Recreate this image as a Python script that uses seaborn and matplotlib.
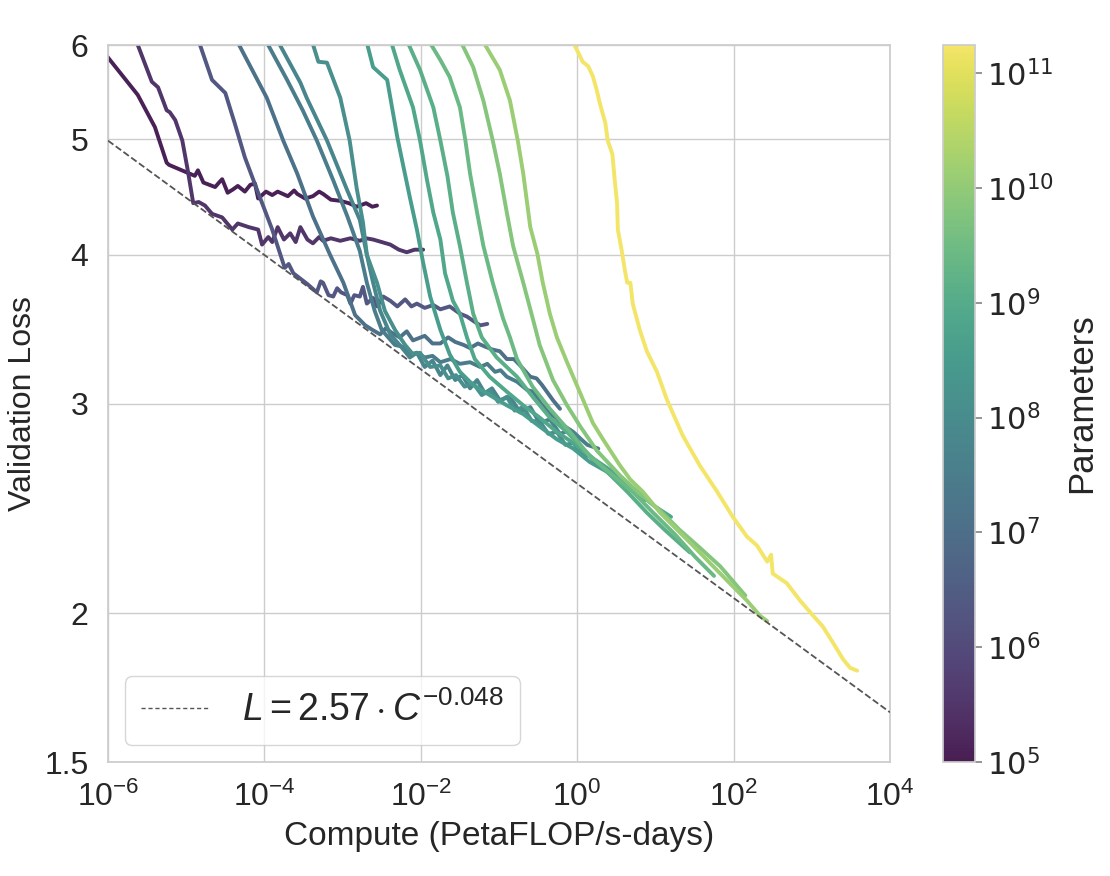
import numpy as np
import pandas as pd
import matplotlib
matplotlib.use("Agg")
import matplotlib.pyplot as plt
import seaborn as sns
from matplotlib.colors import LogNorm, ListedColormap
from matplotlib.cm import ScalarMappable
from matplotlib.ticker import FixedLocator, FixedFormatter, NullLocator

# ---------------- data ----------------
params = [1.2e5, 3.2e5, 2.3e6, 1.2e7, 3.0e7, 5.7e7, 1.25e8, 3.5e8, 7.6e8,
          1.3e9, 2.7e9, 6.7e9, 1.3e10, 1.75e11]

c01_logc = [-6.02, -5.62, -5.40, -5.25, -5.22, -4.99, -4.89, -4.85, -4.78, -4.63, -4.58, -4.54,
            -4.47, -4.40, -4.34, -4.25, -4.18, -4.12, -4.08, -3.98, -3.90, -3.83, -3.70, -3.62,
            -3.58, -3.48, -3.38, -3.30, -3.25, -3.15, -3.03, -2.92, -2.82, -2.70, -2.62, -2.56]
c01_loss = [5.88, 5.45, 5.12, 4.78, 4.76, 4.69, 4.66, 4.71, 4.60, 4.56, 4.60, 4.63,
            4.51, 4.54, 4.57, 4.52, 4.58, 4.59, 4.46, 4.52, 4.49, 4.52, 4.48, 4.53,
            4.50, 4.46, 4.48, 4.52, 4.50, 4.45, 4.44, 4.42, 4.39, 4.42, 4.39, 4.40]

c02_logc = [-5.66, -5.44, -5.36, -5.25, -5.21, -5.14, -5.05, -4.98, -4.91, -4.84, -4.76, -4.67,
            -4.54, -4.41, -4.34, -4.20, -4.08, -4.03, -3.95, -3.90, -3.83, -3.75, -3.67, -3.60,
            -3.54, -3.45, -3.38, -3.30, -3.25, -3.15, -3.03, -2.90, -2.78, -2.70, -2.61, -2.50,
            -2.39, -2.28, -2.18, -2.08, -1.97]
c02_loss = [6.10, 5.59, 5.53, 5.29, 5.27, 5.19, 4.99, 4.71, 4.42, 4.43, 4.40, 4.33,
            4.30, 4.20, 4.25, 4.22, 4.20, 4.08, 4.14, 4.10, 4.22, 4.12, 4.17, 4.10,
            4.22, 4.12, 4.09, 4.14, 4.11, 4.13, 4.11, 4.13, 4.11, 4.13, 4.12, 4.10,
            4.08, 4.04, 4.02, 4.04, 4.04]

c03_logc = [-4.86, -4.67, -4.50, -4.38, -4.25, -4.08, -3.90, -3.74, -3.69, -3.63, -3.45, -3.33,
            -3.28, -3.25, -3.18, -3.12, -3.07, -3.02, -2.94, -2.90, -2.85, -2.78, -2.74, -2.69,
            -2.61, -2.56, -2.48, -2.39, -2.30, -2.20, -2.12, -2.05, -1.95, -1.84, -1.75, -1.63,
            -1.50, -1.41, -1.30, -1.24, -1.15]
c03_loss = [6.10, 5.61, 5.47, 5.16, 4.83, 4.51, 4.20, 3.90, 3.93, 3.86, 3.78, 3.72,
            3.80, 3.79, 3.70, 3.69, 3.75, 3.72, 3.70, 3.64, 3.70, 3.69, 3.76, 3.64,
            3.68, 3.62, 3.69, 3.66, 3.62, 3.67, 3.62, 3.64, 3.61, 3.63, 3.60, 3.62,
            3.57, 3.55, 3.51, 3.49, 3.50]

c04_logc = [-4.38, -3.97, -3.76, -3.58, -3.38, -3.16, -2.99, -2.84, -2.71, -2.62, -2.52, -2.45,
            -2.37, -2.27, -2.18, -2.10, -1.95, -1.85, -1.75, -1.65, -1.56, -1.45, -1.37, -1.27,
            -1.18, -1.08, -0.99, -0.90, -0.81, -0.73, -0.60, -0.52, -0.45, -0.31, -0.22]
c04_loss = [6.10, 5.42, 4.99, 4.68, 4.31, 4.00, 3.79, 3.56, 3.49, 3.46, 3.43, 3.47,
            3.44, 3.41, 3.45, 3.39, 3.42, 3.37, 3.37, 3.41, 3.38, 3.36, 3.34, 3.37,
            3.35, 3.33, 3.32, 3.27, 3.27, 3.23, 3.16, 3.15, 3.11, 3.02, 2.97]

c05_logc = [-4.01, -3.71, -3.51, -3.33, -3.12, -2.94, -2.78, -2.69, -2.59, -2.50, -2.40, -2.33,
            -2.24, -2.14, -2.05, -1.95, -1.85, -1.75, -1.62, -1.50, -1.37, -1.24, -1.15, -1.05,
            -0.98, -0.90, -0.77, -0.64, -0.56, -0.48, -0.35, -0.27, -0.19, -0.05, 0.05, 0.13, 0.27]
c05_loss = [6.10, 5.61, 5.29, 4.99, 4.62, 4.31, 4.03, 3.79, 3.59, 3.46, 3.40, 3.36,
            3.35, 3.30, 3.31, 3.28, 3.29, 3.25, 3.27, 3.24, 3.25, 3.22, 3.24, 3.19,
            3.20, 3.16, 3.13, 3.08, 3.07, 3.01, 2.94, 2.92, 2.88, 2.84, 2.80, 2.77, 2.75]

c06_logc = [-3.86, -3.54, -3.46, -3.20, -2.94, -2.78, -2.69, -2.61, -2.52, -2.39, -2.27, -2.14,
            -2.05, -1.95, -1.85, -1.75, -1.66, -1.56, -1.47, -1.37, -1.28, -1.18, -1.09, -0.99,
            -0.86, -0.73, -0.60, -0.48, -0.35, -0.22, -0.09, 0.04]
c06_loss = [6.10, 5.58, 5.42, 4.99, 4.53, 4.28, 4.00, 3.79, 3.59, 3.43, 3.36, 3.28,
            3.31, 3.22, 3.26, 3.17, 3.23, 3.14, 3.17, 3.09, 3.14, 3.06, 3.09, 3.02,
            3.04, 2.95, 2.98, 2.89, 2.91, 2.83, 2.85, 2.80]

c07_logc = [-3.41, -3.31, -3.20, -3.03, -2.91, -2.82, -2.74, -2.69, -2.56, -2.46, -2.33, -2.20,
            -2.10, -2.01, -1.88, -1.75, -1.65, -1.55, -1.44, -1.33, -1.22, -1.12, -1.01, -0.90,
            -0.80, -0.69, -0.58, -0.48, -0.37, -0.26, -0.15, -0.05, 0.05, 0.16, 0.28, 0.41]
c07_loss = [6.10, 5.81, 5.80, 5.42, 4.99, 4.55, 4.26, 4.00, 3.79, 3.59, 3.46, 3.36,
            3.30, 3.31, 3.22, 3.23, 3.15, 3.17, 3.10, 3.12, 3.05, 3.08, 3.01, 3.04,
            2.96, 2.98, 2.90, 2.90, 2.83, 2.84, 2.77, 2.78, 2.72, 2.71, 2.66, 2.64]

c08_logc = [-2.71, -2.61, -2.43, -2.30, -2.23, -2.14, -2.05, -1.97, -1.88, -1.75, -1.63, -1.50,
            -1.33, -1.12, -0.90, -0.69, -0.48, -0.26, -0.05, 0.16, 0.38, 0.61, 0.87]
c08_loss = [6.10, 5.75, 5.61, 5.02, 4.77, 4.47, 4.20, 3.94, 3.69, 3.46, 3.30, 3.19,
            3.11, 3.05, 2.99, 2.94, 2.87, 2.80, 2.75, 2.68, 2.63, 2.56, 2.49]

c09_logc = [-2.40, -2.27, -2.10, -2.01, -1.92, -1.84, -1.75, -1.69, -1.63, -1.59, -1.50, -1.41,
            -1.31, -1.12, -0.90, -0.69, -0.48, -0.26, -0.05, 0.16, 0.38, 0.61, 0.80, 0.99, 1.20]
c09_loss = [6.10, 5.72, 5.32, 4.99, 4.62, 4.34, 4.12, 3.86, 3.74, 3.66, 3.57, 3.41,
            3.27, 3.16, 3.07, 2.99, 2.92, 2.84, 2.78, 2.71, 2.65, 2.58, 2.52, 2.46, 2.41]

c10_logc = [-2.20, -2.01, -1.84, -1.75, -1.66, -1.59, -1.50, -1.41, -1.33, -1.22, -1.03, -0.77,
            -0.57, -0.35, -0.13, 0.07, 0.38, 0.64, 0.89, 1.12, 1.44]
c10_loss = [6.10, 5.72, 5.32, 4.99, 4.66, 4.34, 4.07, 3.79, 3.57, 3.41, 3.28, 3.16,
            3.04, 2.92, 2.84, 2.75, 2.63, 2.53, 2.43, 2.35, 2.25]

c11_logc = [-1.93, -1.75, -1.63, -1.50, -1.43, -1.37, -1.28, -1.20, -1.08, -0.95, -0.86, -0.77,
            -0.57, -0.35, -0.09, 0.16, 0.46, 0.71, 0.97, 1.25, 1.51, 1.75]
c11_loss = [6.10, 5.83, 5.64, 5.32, 4.99, 4.68, 4.34, 4.07, 3.79, 3.54, 3.41, 3.27,
            3.10, 2.97, 2.84, 2.71, 2.61, 2.53, 2.43, 2.33, 2.23, 2.15]

c12_logc = [-1.52, -1.33, -1.20, -1.08, -0.99, -0.90, -0.82, -0.69, -0.57, -0.48, -0.31, -0.13,
            0.04, 0.25, 0.55, 0.80, 1.06, 1.31, 1.57, 1.83, 2.15]
c12_loss = [6.10, 5.75, 5.39, 4.99, 4.68, 4.34, 4.07, 3.79, 3.54, 3.36, 3.14, 2.99,
            2.87, 2.74, 2.61, 2.52, 2.44, 2.35, 2.27, 2.19, 2.07]

c13_logc = [-1.24, -0.99, -0.86, -0.76, -0.69, -0.60, -0.51, -0.44, -0.35, -0.26, -0.13, 0.04,
            0.20, 0.33, 0.55, 0.68, 0.84, 1.06, 1.28, 1.48, 1.74, 1.95, 2.17, 2.34, 2.43]
c13_loss = [6.10, 5.72, 5.39, 4.99, 4.68, 4.22, 4.01, 3.79, 3.57, 3.41, 3.25, 3.06,
            2.89, 2.80, 2.66, 2.59, 2.53, 2.43, 2.35, 2.28, 2.19, 2.12, 2.05, 1.99, 1.97]

c14_logc = [-0.09, -0.03, 0.01, 0.07, 0.14, 0.20, 0.25, 0.29, 0.36, 0.39, 0.45, 0.48,
            0.51, 0.52, 0.57, 0.61, 0.64, 0.68, 0.71, 0.80, 0.89, 1.02, 1.15, 1.35,
            1.57, 1.79, 1.99, 2.17, 2.30, 2.43, 2.48, 2.50, 2.68, 2.85, 3.02, 3.14,
            3.27, 3.40, 3.49, 3.58]
c14_loss = [6.08, 5.99, 5.92, 5.81, 5.76, 5.65, 5.50, 5.36, 5.16, 4.99, 4.86, 4.62,
            4.42, 4.20, 4.03, 3.88, 3.79, 3.79, 3.64, 3.46, 3.32, 3.19, 3.02, 2.82,
            2.66, 2.53, 2.41, 2.32, 2.28, 2.21, 2.24, 2.16, 2.12, 2.05, 1.99, 1.95,
            1.89, 1.83, 1.80, 1.79]

fit_coef = 2.57
fit_exp = -0.048
fit_range = [1e-6, 1e4]

x_ticks = [1e-6, 1e-4, 1e-2, 1e0, 1e2, 1e4]
y_ticks = [1.5, 2, 3, 4, 5, 6]
y_tick_labels = ["1.5", "2", "3", "4", "5", "6"]

curves_logc = [c01_logc, c02_logc, c03_logc, c04_logc, c05_logc, c06_logc, c07_logc,
               c08_logc, c09_logc, c10_logc, c11_logc, c12_logc, c13_logc, c14_logc]
curves_loss = [c01_loss, c02_loss, c03_loss, c04_loss, c05_loss, c06_loss, c07_loss,
               c08_loss, c09_loss, c10_loss, c11_loss, c12_loss, c13_loss, c14_loss]

# ---------------- style ----------------
sns.set_theme(style="whitegrid")
plt.rcParams["font.family"] = ["Liberation Sans", "DejaVu Sans"]
plt.rcParams["mathtext.fontset"] = "custom"
plt.rcParams["mathtext.rm"] = "Liberation Sans"
plt.rcParams["mathtext.it"] = "Liberation Sans:italic"

# muted viridis (the reference image is slightly washed out)
base = plt.get_cmap("viridis")(np.linspace(0, 1, 256))[:, :3]
lum = (base @ np.array([0.299, 0.587, 0.114]))[:, None]
muted = lum + 0.7 * (base - lum)
muted = muted + 0.08 * (1 - muted)
muted_cmap = ListedColormap(np.clip(muted, 0, 1), name="muted_viridis")

frames = []
for i, (lc, ls) in enumerate(zip(curves_logc, curves_loss)):
    frames.append(pd.DataFrame({"compute": 10 ** np.array(lc), "loss": ls,
                                "params": params[i], "run": i}))
df = pd.concat(frames, ignore_index=True)

fig = plt.figure(figsize=(11.1, 8.76), dpi=100)
ax = fig.add_axes([0.0973, 0.130, 0.7045, 0.8185])
cax = fig.add_axes([0.8495, 0.130, 0.029, 0.8185])

norm = LogNorm(vmin=1e5, vmax=1.75e11)
sns.lineplot(data=df, x="compute", y="loss", hue="params", hue_norm=norm,
             palette=muted_cmap, units="run", estimator=None, sort=False,
             legend=False, lw=2.8, ax=ax)

fc = np.array(fit_range)
ax.plot(fc, fit_coef * fc ** fit_exp, ls="--", color="#555555", lw=1.3,
        label=r"$L = 2.57 \cdot C^{-0.048}$", zorder=5)

ax.set_xscale("log")
ax.set_yscale("log")
ax.set_xlim(fit_range)
ax.set_ylim(1.5, 6)
ax.xaxis.set_major_locator(FixedLocator(x_ticks))
ax.xaxis.set_minor_locator(NullLocator())
ax.yaxis.set_major_locator(FixedLocator(y_ticks))
ax.yaxis.set_major_formatter(FixedFormatter(y_tick_labels))
ax.yaxis.set_minor_locator(NullLocator())
ax.tick_params(axis="both", labelsize=23, pad=8)
ax.set_xlabel("Compute (PetaFLOP/s-days)", fontsize=24, labelpad=6)
ax.set_ylabel("Validation Loss", fontsize=23)
ax.yaxis.set_label_coords(-0.09, 0.5)

leg = ax.legend(loc="lower left", fontsize=27, handlelength=1.8, handletextpad=0.9,
                borderpad=0.42, borderaxespad=0.45, frameon=True)
leg.get_frame().set_edgecolor("#cccccc")
for hl in leg.get_lines():
    hl.set_linewidth(1.0)
    hl.set_dashes([3, 2])

sm = ScalarMappable(norm=norm, cmap=muted_cmap)
cb = fig.colorbar(sm, cax=cax)
cax.grid(False)
cax.xaxis.set_visible(False)
cb.outline.set_edgecolor("#cccccc")
cb.ax.yaxis.set_minor_locator(NullLocator())
cb.ax.tick_params(labelsize=22, labelfontfamily="DejaVu Sans", length=5, color="#888888")
cb.set_label("Parameters", fontsize=25, labelpad=8)

fig.savefig("out.png", dpi=100)
